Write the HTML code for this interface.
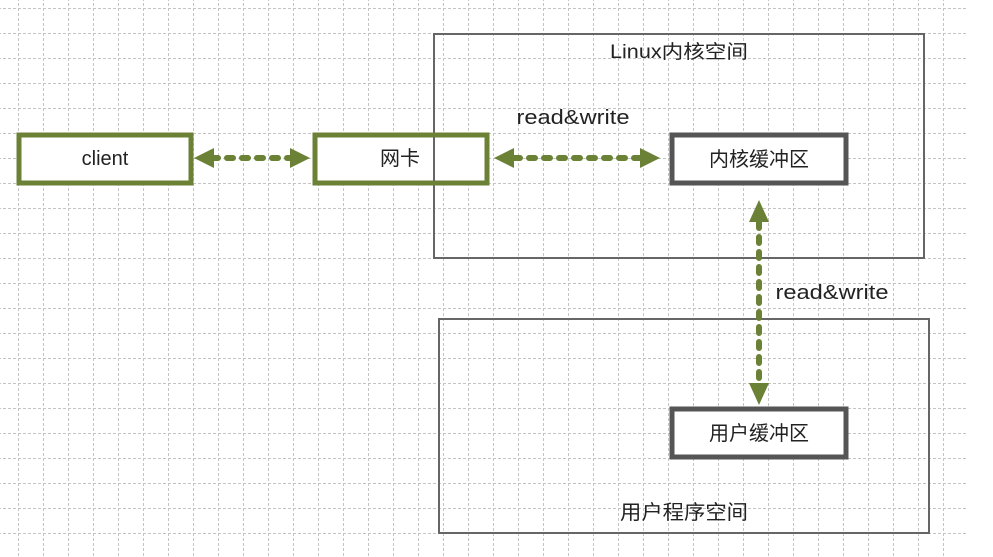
<!DOCTYPE html>
<html><head><meta charset="utf-8"><style>
html,body{margin:0;padding:0;background:#fff;}
svg{display:block;}
text{font-family:"Liberation Sans","Noto Sans CJK SC",sans-serif;fill:#222;}
</style></head><body>
<svg width="993" height="557" viewBox="0 0 993 557" xmlns="http://www.w3.org/2000/svg">
<defs>
<pattern id="g" x="-7" y="8" width="25" height="25" patternUnits="userSpaceOnUse">
<path d="M0 0.5 H25" stroke="#c4c4c4" stroke-width="1" stroke-dasharray="3 2"/>
<path d="M0.5 0 V25" stroke="#c4c4c4" stroke-width="1" stroke-dasharray="3 2"/>
</pattern>
</defs>
<rect x="0" y="0" width="968" height="557" fill="url(#g)"/>
<!-- kernel space -->
<rect x="434" y="34" width="490" height="224" fill="none" stroke="#666" stroke-width="2"/>
<text x="679" y="58" font-size="19" text-anchor="middle" textLength="138" lengthAdjust="spacingAndGlyphs">Linux内核空间</text>
<!-- user space -->
<rect x="439" y="319" width="490" height="214" fill="none" stroke="#666" stroke-width="2"/>
<text x="684" y="519" font-size="20" text-anchor="middle" textLength="128" lengthAdjust="spacingAndGlyphs">用户程序空间</text>
<!-- boxes -->
<rect x="19" y="135" width="172" height="48" fill="#fff" stroke="#6b8136" stroke-width="5"/>
<text x="105" y="165" font-size="20" text-anchor="middle">client</text>
<rect x="315" y="135" width="172" height="48" fill="#fff" stroke="#6b8136" stroke-width="5"/>
<line x1="434" y1="137" x2="434" y2="181" stroke="#666" stroke-width="2"/>
<text x="400" y="165" font-size="20" text-anchor="middle">网卡</text>
<rect x="672" y="135" width="174" height="48" fill="#fff" stroke="#555" stroke-width="5"/>
<text x="759" y="166" font-size="20" text-anchor="middle">内核缓冲区</text>
<rect x="672" y="409" width="174" height="48" fill="#fff" stroke="#555" stroke-width="5"/>
<text x="759" y="440" font-size="20" text-anchor="middle">用户缓冲区</text>
<!-- arrows -->
<g stroke="#6b8136" stroke-width="6" stroke-dasharray="6 9" stroke-linecap="round">
<line x1="212" y1="158" x2="292" y2="158"/>
<line x1="514" y1="158" x2="644" y2="158"/>
<line x1="759" y1="222" x2="759" y2="384"/>
</g>
<g fill="#6b8136">
<polygon points="194,158 214,148 214,168"/>
<polygon points="310,158 290,148 290,168"/>
<polygon points="494,158 514,148 514,168"/>
<polygon points="660,158 640,148 640,168"/>
<polygon points="759,200 749,222 769,222"/>
<polygon points="759,405 749,383 769,383"/>
</g>
<text x="573" y="124" font-size="20" text-anchor="middle" textLength="113" lengthAdjust="spacingAndGlyphs">read&amp;write</text>
<text x="832" y="299" font-size="20" text-anchor="middle" textLength="113" lengthAdjust="spacingAndGlyphs">read&amp;write</text>
</svg>
</body></html>
